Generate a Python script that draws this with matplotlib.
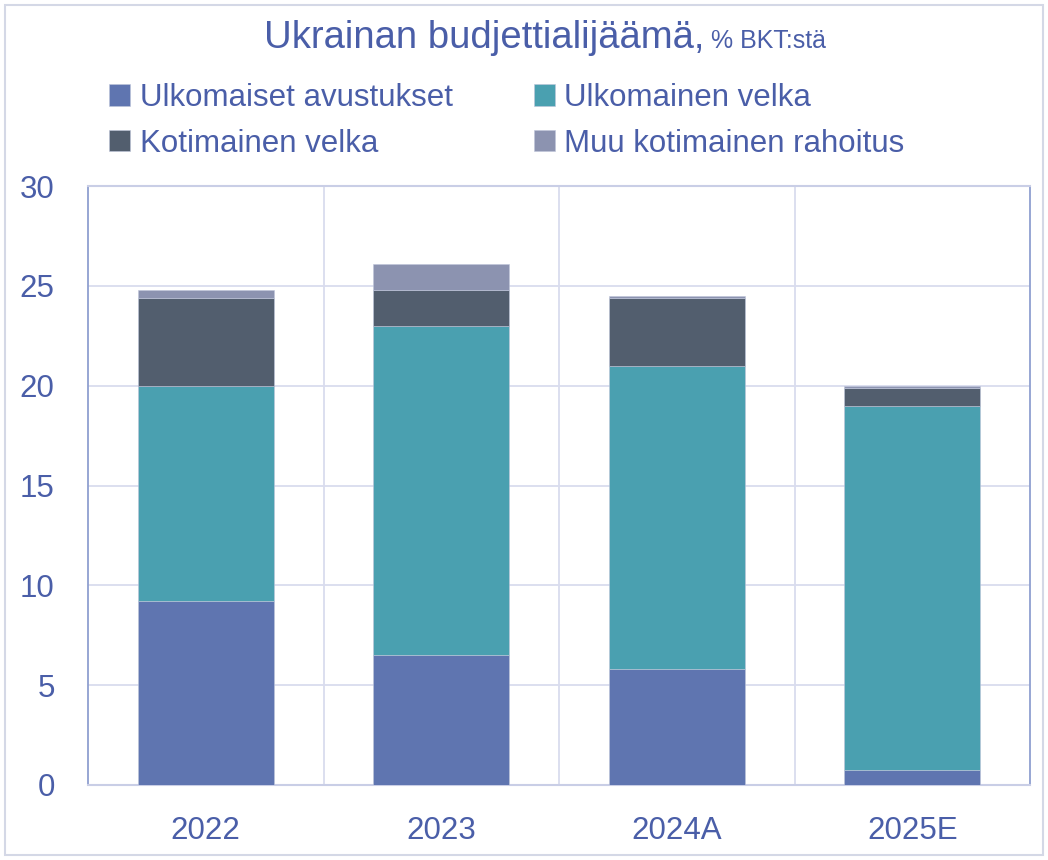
import matplotlib
matplotlib.use("Agg")
import matplotlib.pyplot as plt
import numpy as np
from matplotlib.patches import Rectangle

categories = ["2022", "2023", "2024A", "2025E"]
ulkomaiset_avustukset = [9.2, 6.5, 5.8, 0.75]
ulkomainen_velka = [10.8, 16.5, 15.2, 18.25]
kotimainen_velka = [4.4, 1.8, 3.4, 0.9]
muu_kotimainen = [0.4, 1.3, 0.1, 0.1]
series_names = ["Ulkomaiset avustukset", "Ulkomainen velka", "Kotimainen velka", "Muu kotimainen rahoitus"]
yticks = [0, 5, 10, 15, 20, 25, 30]

colors = ["#5F75B0", "#4AA0B0", "#525E6E", "#8C93B0"]
txt = "#4A5EA8"
plt.rcParams['font.family'] = ['Liberation Sans', 'DejaVu Sans']

fig = plt.figure(figsize=(10.48, 8.60), dpi=100)
ax = fig.add_axes([88/1048, 1-785/860, (1030-88)/1048, (785-186)/860])

x = np.arange(len(categories))
series = [ulkomaiset_avustukset, ulkomainen_velka, kotimainen_velka, muu_kotimainen]
bottom = np.zeros(len(categories))
handles = []
for vals, c, name in zip(series, colors, series_names):
    b = ax.bar(x, vals, 0.578, bottom=bottom, color=c, label=name, zorder=3,
               edgecolor="#BFC6DA", linewidth=0.4)
    handles.append(b)
    bottom += np.array(vals)

ax.set_xlim(-0.5, len(categories) - 0.5)
ax.set_ylim(0, 30)
ax.set_yticks(yticks)
ax.set_yticklabels([str(t) for t in yticks])
ax.set_xticks(x)
ax.set_xticklabels(categories)
ax.tick_params(axis='both', length=0, labelsize=22.5, labelcolor=txt)
ax.tick_params(axis='x', pad=22)
ax.tick_params(axis='y', pad=24)
ax.grid(axis='y', color="#D9DCEE", linewidth=1.3, zorder=0)
for xv in np.arange(0.5, len(categories) - 0.5, 1.0):
    ax.axvline(xv, color="#D9DCEE", linewidth=1.3, zorder=0)
for s in ["left", "right"]:
    ax.spines[s].set_color("#8F9FD0")
    ax.spines[s].set_linewidth(1.3)
for s in ["top", "bottom"]:
    ax.spines[s].set_color("#C9CEE6")
    ax.spines[s].set_linewidth(1.5)

# title
ty = 1 - 48/860
t1 = fig.text(0.5, ty, "Ukrainan budjettialijäämä,", fontsize=27.5, color=txt,
              ha="left", va="baseline")
t2 = fig.text(0.5, ty, " % BKT:stä", fontsize=18, color=txt, ha="left", va="baseline")
fig.canvas.draw()
r = fig.canvas.get_renderer()
w1 = t1.get_window_extent(r).width
w2 = t2.get_window_extent(r).width
x0 = 545 - (w1 + w2) / 2
t1.set_position((x0/1048, ty))
t2.set_position(((x0 + w1)/1048, ty))

order = [0, 2, 1, 3]
fig.legend(handles=[handles[i] for i in order], labels=[series_names[i] for i in order],
           ncol=2, loc="upper left",
           bbox_to_anchor=(84/1048, 1-58/860), frameon=False, fontsize=22.5,
           labelcolor=txt, handlelength=0.68, handleheight=0.68, handletextpad=0.3,
           columnspacing=2.6, labelspacing=0.5, borderpad=0.3)

fig.add_artist(Rectangle((5/1048, 5/860), 1-10/1048, 1-10/860, transform=fig.transFigure,
                         fill=False, edgecolor="#D4D8E6", linewidth=1.5))
fig.savefig("out.png", dpi=100)
